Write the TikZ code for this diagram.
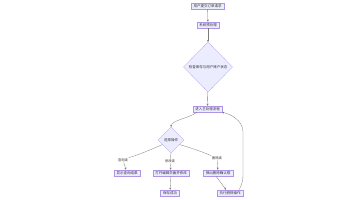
\documentclass[tikz,border=0pt]{standalone}
\usepackage{fontspec}
\setmainfont{Noto Sans CJK SC}
\usetikzlibrary{shapes.geometric,arrows.meta,calc}
\definecolor{nodefill}{HTML}{ECECFF}
\definecolor{nodeline}{HTML}{9370DB}
\definecolor{edgec}{HTML}{333333}
\tikzset{
  box/.style={draw=nodeline!75,fill=nodefill,line width=0.2pt,inner xsep=2.5pt,inner ysep=1.6pt,text=edgec,font=\fontsize{3.5}{4}\selectfont},
  choice/.style={diamond,draw=nodeline!75,fill=nodefill,line width=0.2pt,inner sep=0pt,text=edgec,font=\fontsize{3.5}{4}\selectfont},
  elabel/.style={fill=white,inner sep=0.6pt,text=edgec,font=\fontsize{3.3}{4}\selectfont},
  arr/.style={draw=edgec!65,line width=0.3pt,-{Stealth[length=2pt,width=2pt]}},
  ln/.style={draw=edgec!65,line width=0.3pt}
}
\begin{document}
\begin{tikzpicture}[x=1pt,y=-1pt]
\useasboundingbox[fill=white] (0,0) rectangle (356,200);
\node[box] (n1) at (207.5,6) {用户提交订单请求};
\node[box] (n2) at (208,25) {系统预处理};
\node[choice,minimum width=49pt,minimum height=50pt] (d1) at (208,67) {检查库存与用户账户状态};
\node[box] (n4) at (207.5,109) {进入主处理流程};
\node[choice,minimum width=26pt,minimum height=26pt] (d2) at (171,140) {选择操作};
\node[elabel] (la) at (123,160) {查询类};
\node[elabel] (lb) at (170,161) {修改类};
\node[elabel] (lc) at (217,158) {删除类};
\node[box] (ba) at (127,173) {显示查询结果};
\node[box] (bb) at (171,173) {打开编辑页面并修改};
\node[box] (bc) at (218,173) {弹出删除确认框};
\node[box] (bd) at (170,193) {保存成功};
\node[box] (be) at (230,193) {执行删除操作};
\draw[arr] (n1) -- (n2);
\draw[arr] (n2) -- (d1);
\draw[arr] (d1) -- (n4);
\draw[arr] ($(n4.south west)+(4,0)$) .. controls (190,118) and (172,120) .. (d2.north);
\draw[ln] ($(d2.west)!0.35!(d2.south)$) .. controls (150,150) and (138,155) .. (la.north east);
\draw[arr] (la) -- (ba);
\draw[ln] (d2.south) -- (lb);
\draw[arr] (lb) -- (bb);
\draw[ln] ($(d2.east)!0.35!(d2.south)$) .. controls (195,149) and (205,153) .. (lc.north west);
\draw[arr] (lc) -- (bc);
\draw[arr] (bb) -- (bd);
\draw[arr] ($(bc.south)+(-2,0)$) -- ($(be.north)+(-4,0)$);
\draw[arr] ($(be.north east)+(-4,0)$) .. controls (241,186) and (243,182) .. (243,176) -- (243,132) .. controls (243,120) and (230,114) .. (n4.south east);
\end{tikzpicture}
\end{document}
